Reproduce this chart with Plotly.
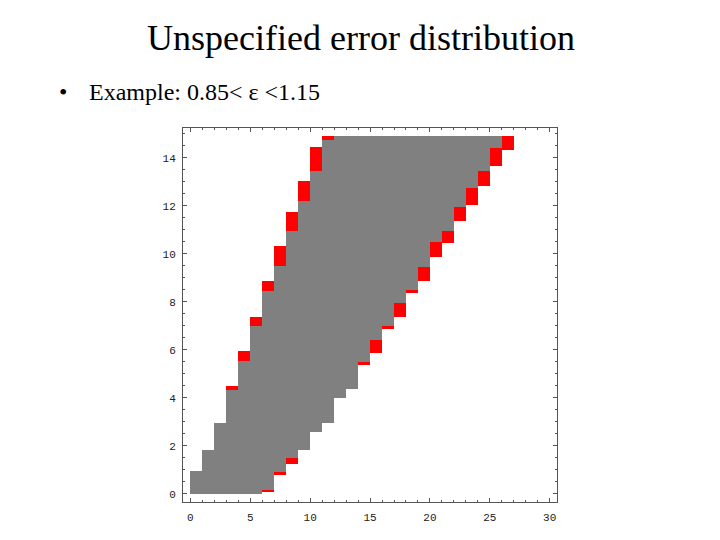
import plotly.graph_objects as go

# Gray region: per column (x from col to col+1), y from gray_lo to gray_hi
gray_cols = list(range(26))
gray_lo = [0, 0, 0, 0, 0, 0, 0.17, 0.89, 1.47, 1.83, 2.56, 2.94, 3.97, 4.37,
           5.47, 6.42, 6.97, 7.95, 8.47, 9.44, 10.49, 10.93, 11.93, 12.74, 13.43, 14.40]
gray_hi = [0.96, 1.83, 2.94, 4.33, 5.55, 6.97, 8.46, 9.47, 10.93, 12.21, 13.43, 14.72,
           14.92, 14.92, 14.92, 14.92, 14.92, 14.92, 14.92, 14.92, 14.92, 14.92, 14.92,
           14.92, 14.92, 14.92]

# Red cells: column, low, high
red_cols = [3, 4, 5, 6, 7, 8, 9, 10, 11,
            6, 7, 8, 14, 15, 16, 17, 18, 19, 20, 21, 22, 23, 24, 25, 26]
red_lo = [4.33, 5.55, 6.97, 8.46, 9.47, 10.93, 12.21, 13.43, 14.72,
          0.07, 0.79, 1.25, 5.35, 5.86, 6.875, 7.35, 8.36, 8.875, 9.86, 10.45,
          11.35, 12.04, 12.83, 13.64, 14.33]
red_hi = [4.47, 5.96, 7.35, 8.85, 10.33, 11.72, 13.04, 14.43, 14.92,
          0.17, 0.89, 1.47, 5.47, 6.42, 6.97, 7.95, 8.47, 9.44, 10.49, 10.93,
          11.93, 12.74, 13.43, 14.40, 14.92]

title_text = "Unspecified error distribution"
bullet_text = "Example: 0.85< ε <1.15"

fig = go.Figure()
fig.add_trace(go.Bar(
    x=[c + 0.5 for c in gray_cols],
    y=[h - l for l, h in zip(gray_lo, gray_hi)],
    base=gray_lo, width=1,
    marker=dict(color="#808080", line=dict(width=0)),
    hoverinfo="skip", showlegend=False))
fig.add_trace(go.Bar(
    x=[c + 0.5 for c in red_cols],
    y=[h - l for l, h in zip(red_lo, red_hi)],
    base=red_lo, width=1,
    marker=dict(color="#ff0000", line=dict(width=0)),
    hoverinfo="skip", showlegend=False))

# plot area in screen pixels: x 183.3-557.3, y 128.3-502.3 (page has 8px body offset)
L, R, T, B = 183.3, 557.3, 128.3, 502.3
W = R - L
H = B - T
OFF = 8

def px(x):
    return (x - L) / W

def py(y):
    return (B - y) / H

tickfont = dict(family="Liberation Mono", size=11, color="#222222")

fig.update_layout(
    width=720, height=540,
    margin=dict(l=L - OFF, r=720 - (R - OFF), t=T - OFF, b=540 - (B - OFF)),
    paper_bgcolor="white", plot_bgcolor="white",
    barmode="overlay", bargap=0,
    showlegend=False,
    xaxis=dict(range=[-0.62, 30.61], tick0=0, dtick=5, ticks="inside", ticklen=4,
               tickcolor="#555555", showline=True, linecolor="#555555", linewidth=1,
               mirror="ticks", showgrid=False, zeroline=False,
               minor=dict(dtick=1, ticks="inside", ticklen=2, tickcolor="#555555", showgrid=False),
               tickfont=tickfont, ticklabelstandoff=5),
    yaxis=dict(range=[-0.346, 15.24], tick0=0, dtick=2, ticks="inside", ticklen=4,
               tickcolor="#555555", showline=True, linecolor="#555555", linewidth=1,
               mirror="ticks", showgrid=False, zeroline=False,
               minor=dict(dtick=0.5, ticks="inside", ticklen=2, tickcolor="#555555", showgrid=False),
               tickfont=tickfont, ticklabelstandoff=4),
    annotations=[
        dict(text=title_text, xref="paper", yref="paper", x=px(361), y=py(38),
             xanchor="center", yanchor="middle", showarrow=False,
             font=dict(family="Liberation Serif", size=36, color="black")),
        dict(text="•", xref="paper", yref="paper", x=px(57), y=py(92),
             xanchor="left", yanchor="middle", showarrow=False,
             font=dict(family="Liberation Serif", size=24, color="black")),
        dict(text=bullet_text, xref="paper", yref="paper", x=px(87), y=py(92),
             xanchor="left", yanchor="middle", showarrow=False,
             font=dict(family="Liberation Serif", size=24, color="black")),
    ],
)

fig.write_html("out.html")
